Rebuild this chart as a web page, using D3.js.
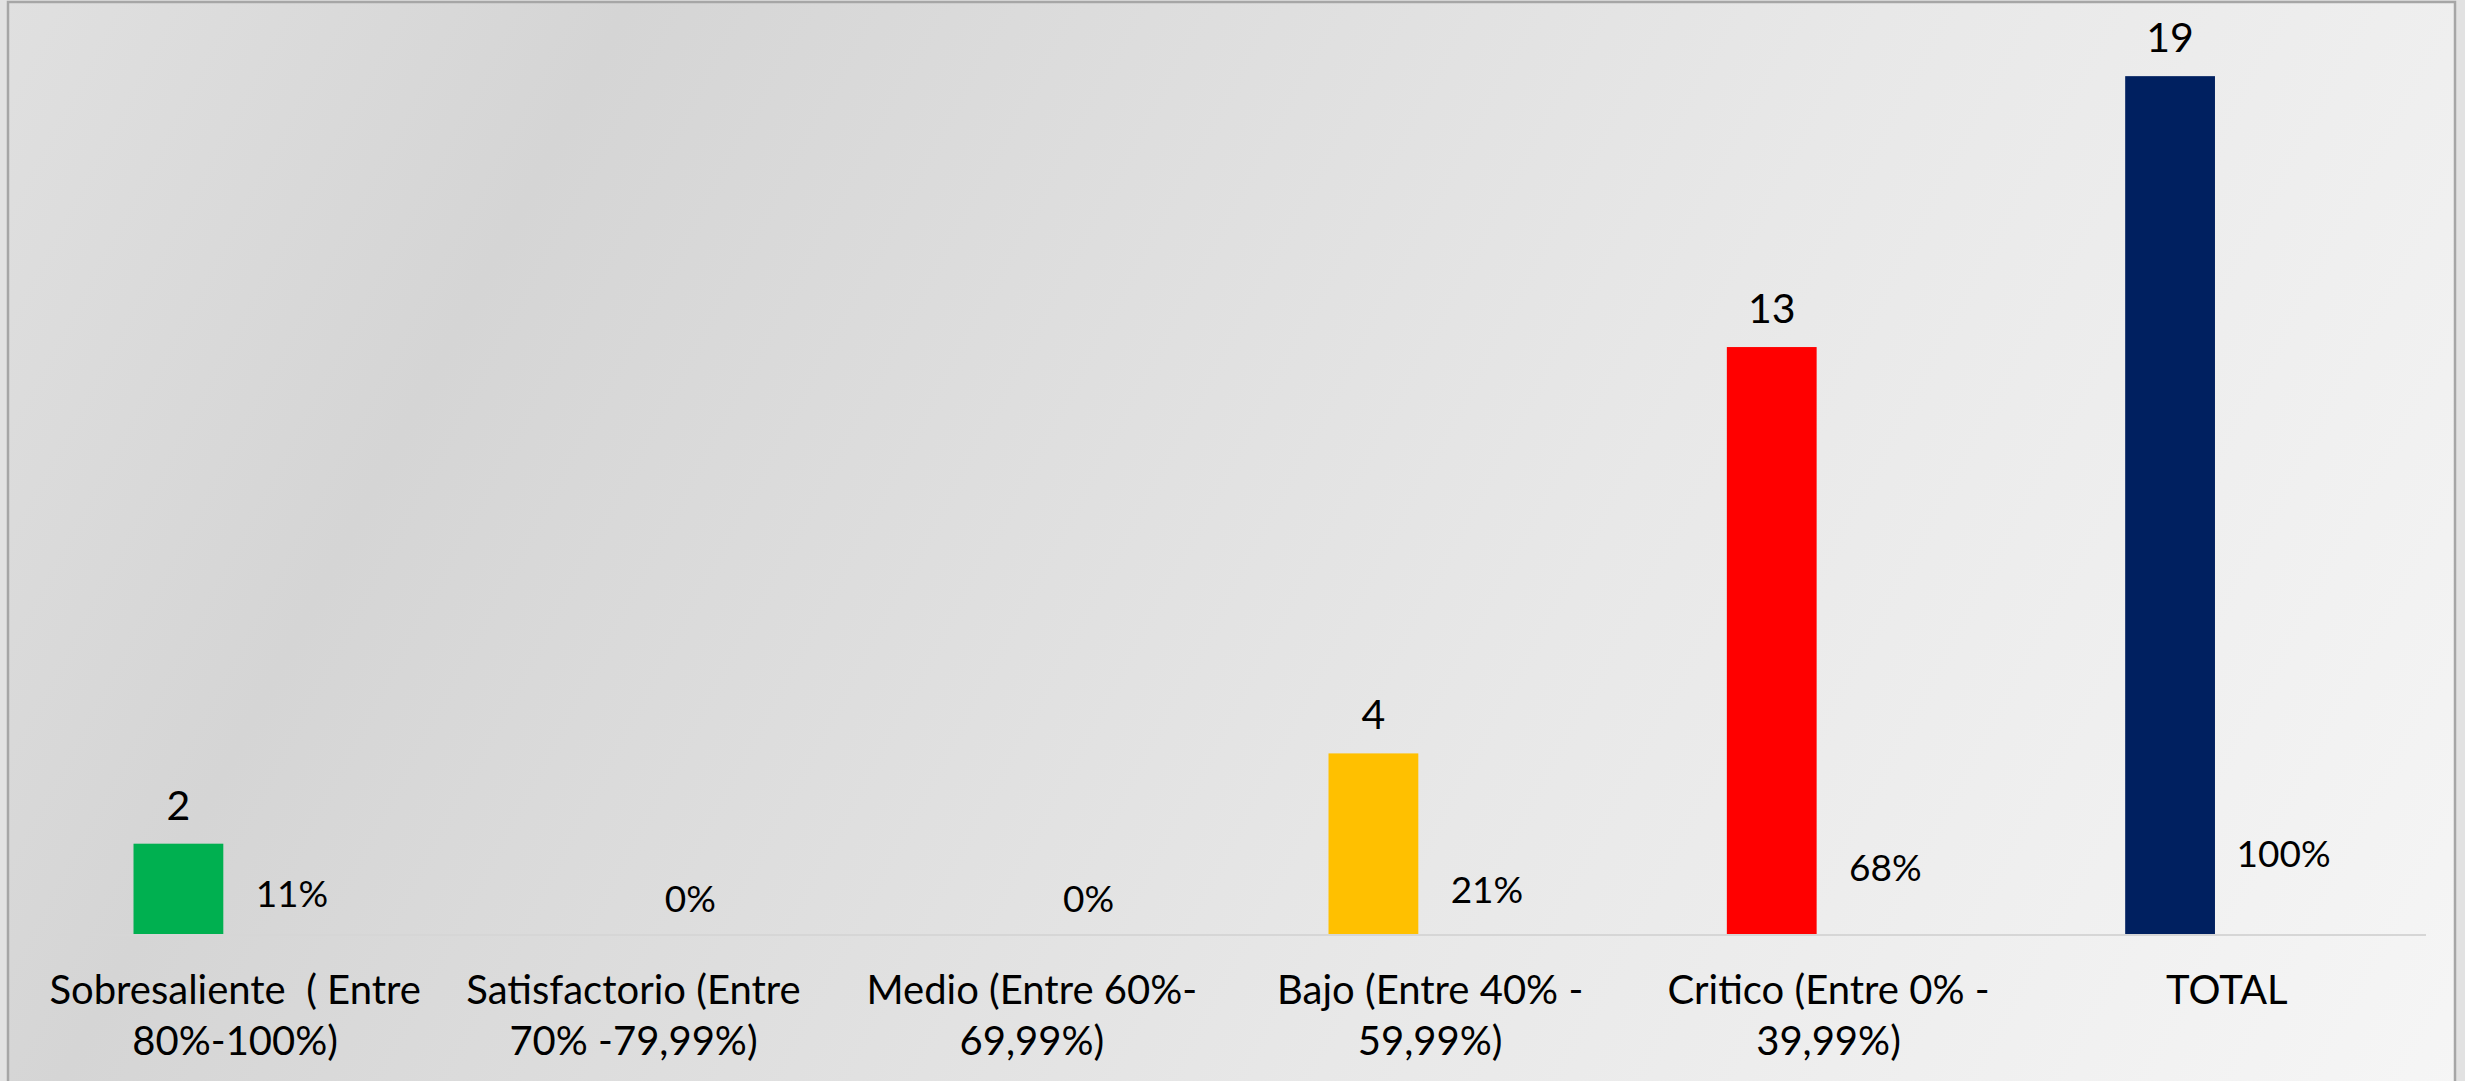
<!DOCTYPE html>
<html>
<head>
<meta charset="utf-8">
<script src="https://cdn.jsdelivr.net/npm/d3@7"></script>
<style>
  html, body { margin: 0; padding: 0; background: #e2e2e2; }
  text { font-family: Lato, "Open Sans", sans-serif; fill: #000; white-space: pre; }
</style>
</head>
<body>
<div id="barchart"></div>
<script>
// chart data
var categories = ["Sobresaliente", "Satisfactorio", "Medio", "Bajo", "Critico", "TOTAL"];
var labelLines = [
    ["Sobresaliente  ( Entre", "80%-100%)"],
    ["Satisfactorio (Entre", "70% -79,99%)"],
    ["Medio (Entre 60%-", "69,99%)"],
    ["Bajo (Entre 40% -", "59,99%)"],
    ["Critico (Entre 0% -", "39,99%)"],
    ["TOTAL"]
];
var counts = [2, 0, 0, 4, 13, 19];
var percents = [0.11, 0, 0, 0.21, 0.68, 1.00];
var colors = ["#00b050", "#92d050", "#ffff00", "#ffc000", "#ff0000", "#002060"];

function createBarchart(){
    var width = 2465,
        height = 1081;

    var svg = d3.select("#barchart").append("svg")
        .attr("width", width)
        .attr("height", height);

    var defs = svg.append("defs");
    var grad = defs.append("linearGradient")
        .attr("id", "bg")
        .attr("gradientUnits", "userSpaceOnUse")
        .attr("x1", 0).attr("y1", 0)
        .attr("x2", 2465).attr("y2", 1300);
    grad.append("stop").attr("offset", "0").attr("stop-color", "#e0e0e0");
    grad.append("stop").attr("offset", "0.2").attr("stop-color", "#d5d5d5");
    grad.append("stop").attr("offset", "0.6").attr("stop-color", "#e8e8e8");
    grad.append("stop").attr("offset", "1").attr("stop-color", "#f7f7f7");

    // chart frame
    svg.append("rect")
        .attr("x", 8)
        .attr("y", 2)
        .attr("width", 2447)
        .attr("height", 1090)
        .attr("fill", "url(#bg)")
        .attr("stroke", "#a6a6a6")
        .attr("stroke-width", 2.5);

    // scales
    var x0 = d3.scaleBand()
        .domain(categories)
        .range([36, 2426])
        .paddingInner(0)
        .paddingOuter(0);

    var x1 = d3.scaleBand()
        .domain(["count", "pct"])
        .range([0, x0.bandwidth()])
        .paddingInner(0.209)
        .paddingOuter(0.859);

    var y = d3.scaleLinear()
        .domain([0, 20])
        .range([934, 31]);

    var rows = categories.map(function(c, i){
        return {cat: c, count: counts[i], pct: percents[i], color: colors[i], lines: labelLines[i]};
    });

    // bars (counts)
    svg.selectAll(".bar")
        .data(rows)
        .enter()
        .append("rect")
        .attr("class", "bar")
        .attr("x", function(d){ return x0(d.cat) + x1("count"); })
        .attr("y", function(d){ return y(d.count); })
        .attr("width", x1.bandwidth())
        .attr("height", function(d){ return y(0) - y(d.count); })
        .attr("fill", function(d){ return d.color; });

    // category axis line
    svg.append("line")
        .attr("x1", x0.range()[0] + 20)
        .attr("x2", x0.range()[1])
        .attr("y1", y(0) + 1)
        .attr("y2", y(0) + 1)
        .attr("stroke", "#d6d6d6")
        .attr("stroke-width", 2);

    // count labels
    svg.selectAll(".countLabel")
        .data(rows.filter(function(d){ return d.count > 0; }))
        .enter()
        .append("text")
        .attr("class", "countLabel")
        .attr("x", function(d){ return x0(d.cat) + x1("count") + x1.bandwidth() / 2; })
        .attr("y", function(d){ return y(d.count) - 24; })
        .attr("text-anchor", "middle")
        .style("font-size", "41px")
        .text(function(d){ return d.count; });

    // percent labels, sitting on the invisible second series
    var fmt = d3.format(".0%");
    svg.selectAll(".pctLabel")
        .data(rows)
        .enter()
        .append("text")
        .attr("class", "pctLabel")
        .attr("x", function(d){ return x0(d.cat) + x1("pct") + x1.bandwidth() / 2; })
        .attr("y", function(d){ return y(d.pct) - 22; })
        .attr("text-anchor", "middle")
        .style("font-size", "37px")
        .text(function(d){ return fmt(d.pct); });

    // category labels
    var cat = svg.selectAll(".catLabel")
        .data(rows)
        .enter()
        .append("text")
        .attr("class", "catLabel")
        .attr("text-anchor", "middle")
        .style("font-size", "40px");

    cat.selectAll("tspan")
        .data(function(d){
            return d.lines.map(function(l){ return {cat: d.cat, line: l}; });
        })
        .enter()
        .append("tspan")
        .attr("x", function(d){ return x0(d.cat) + x0.bandwidth() / 2; })
        .attr("y", function(d, i){ return 1004 + i * 51; })
        .text(function(d){ return d.line; });
}

createBarchart();
</script>
</body>
</html>
